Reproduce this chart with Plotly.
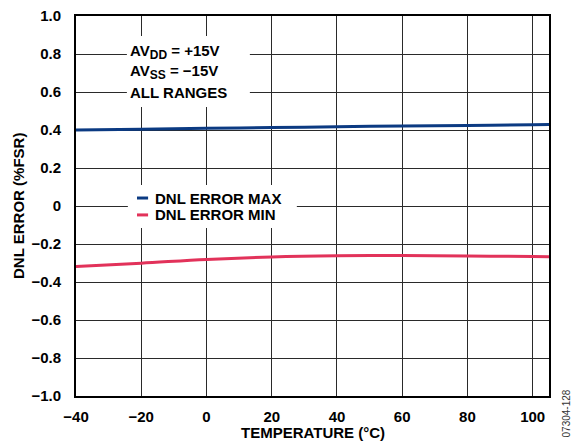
import plotly.graph_objects as go

# DNL error vs. temperature
temperature = [-40, -20, 0, 20, 40, 60, 80, 100, 105]
dnl_max = [0.400, 0.404, 0.409, 0.413, 0.417, 0.421, 0.424, 0.428, 0.429]
dnl_min = [-0.319, -0.301, -0.281, -0.268, -0.262, -0.261, -0.263, -0.266, -0.267]

x_ticks = [-40, -20, 0, 20, 40, 60, 80, 100]
x_ticktext = ["−40", "−20", "0", "20", "40", "60", "80", "100"]
y_ticks = [1.0, 0.8, 0.6, 0.4, 0.2, 0, -0.2, -0.4, -0.6, -0.8, -1.0]
y_ticktext = ["1.0", "0.8", "0.6", "0.4", "0.2", "0", "−0.2", "−0.4", "−0.6", "−0.8", "−1.0"]

series_names = ["DNL ERROR MAX", "DNL ERROR MIN"]
series_colors = ["#0b3a82", "#e2325a"]

FONT = "Arial, Liberation Sans, sans-serif"
SIZE = 15
bold = dict(family=FONT, size=SIZE, color="black", weight="bold")

fig = go.Figure()
for name, ys, color in zip(series_names, [dnl_max, dnl_min], series_colors):
    fig.add_trace(go.Scatter(
        x=temperature, y=ys, mode="lines", name=name,
        line=dict(color=color, width=3, shape="spline"),
        showlegend=False,
    ))

axis_common = dict(
    showgrid=True, gridcolor="#2a2a2a", gridwidth=1,
    showline=True, linecolor="black", linewidth=2, mirror=True,
    zeroline=False, ticks="", automargin=False,
    tickfont=bold,
)

fig.update_xaxes(range=[-40, 105], tickvals=x_ticks, ticktext=x_ticktext,
                 ticklabelstandoff=6, **axis_common)
fig.update_yaxes(range=[-1.0, 1.0], tickvals=y_ticks, ticktext=y_ticktext,
                 ticklabelstandoff=10, **axis_common)

shapes = []
annotations = []

# Axis titles
annotations.append(dict(text="TEMPERATURE (°C)", x=0.5, y=0, xref="paper", yref="paper",
                        xanchor="center", yanchor="middle", yshift=-36, showarrow=False, font=bold))
annotations.append(dict(text="DNL ERROR (%FSR)", x=0, y=0.5, xref="paper", yref="paper",
                        xanchor="center", yanchor="middle", xshift=-58, textangle=-90,
                        showarrow=False, font=bold))

# Supply conditions box
shapes.append(dict(type="rect", xref="x", yref="y", x0=-24.4, x1=13.3, y0=0.521, y1=0.895,
                   fillcolor="white", line=dict(width=0), layer="above"))
sub = '<sub><span style="font-size:12px">{}</span></sub>'
cond_lines = ["AV" + sub.format("DD") + " = +15V", "AV" + sub.format("SS") + " = −15V", "ALL RANGES"]
cond_y = [0.808, 0.705, 0.600]
for txt, yy in zip(cond_lines, cond_y):
    annotations.append(dict(text=txt, x=-24.0, y=yy, xref="x", yref="y",
                            xanchor="left", yanchor="middle", showarrow=False, font=bold))

# Legend box
shapes.append(dict(type="rect", xref="x", yref="y", x0=-24.1, x1=27.7, y0=-0.116, y1=0.111,
                   fillcolor="white", line=dict(width=0), layer="above"))
legend_y = [0.042, -0.047]
for name, color, yy in zip(series_names, series_colors, legend_y):
    shapes.append(dict(type="line", xref="x", yref="y", x0=-21.3, x1=-17.9, y0=yy, y1=yy,
                       line=dict(color=color, width=3), layer="above"))
    annotations.append(dict(text=name, x=-16.3, y=yy, xref="x", yref="y",
                            xanchor="left", yanchor="middle", showarrow=False, font=bold))

# Figure code on the right edge
annotations.append(dict(text="07304-128", x=1.038, y=-0.046, xref="paper", yref="paper",
                        xanchor="center", yanchor="middle", textangle=-90, showarrow=False,
                        font=dict(family=FONT, size=10, color="#333333")))

fig.update_layout(
    width=575, height=443,
    margin=dict(l=76, r=26, t=16, b=47),
    paper_bgcolor="white", plot_bgcolor="white",
    shapes=shapes, annotations=annotations,
    showlegend=False,
)

fig.write_html("out.html")
